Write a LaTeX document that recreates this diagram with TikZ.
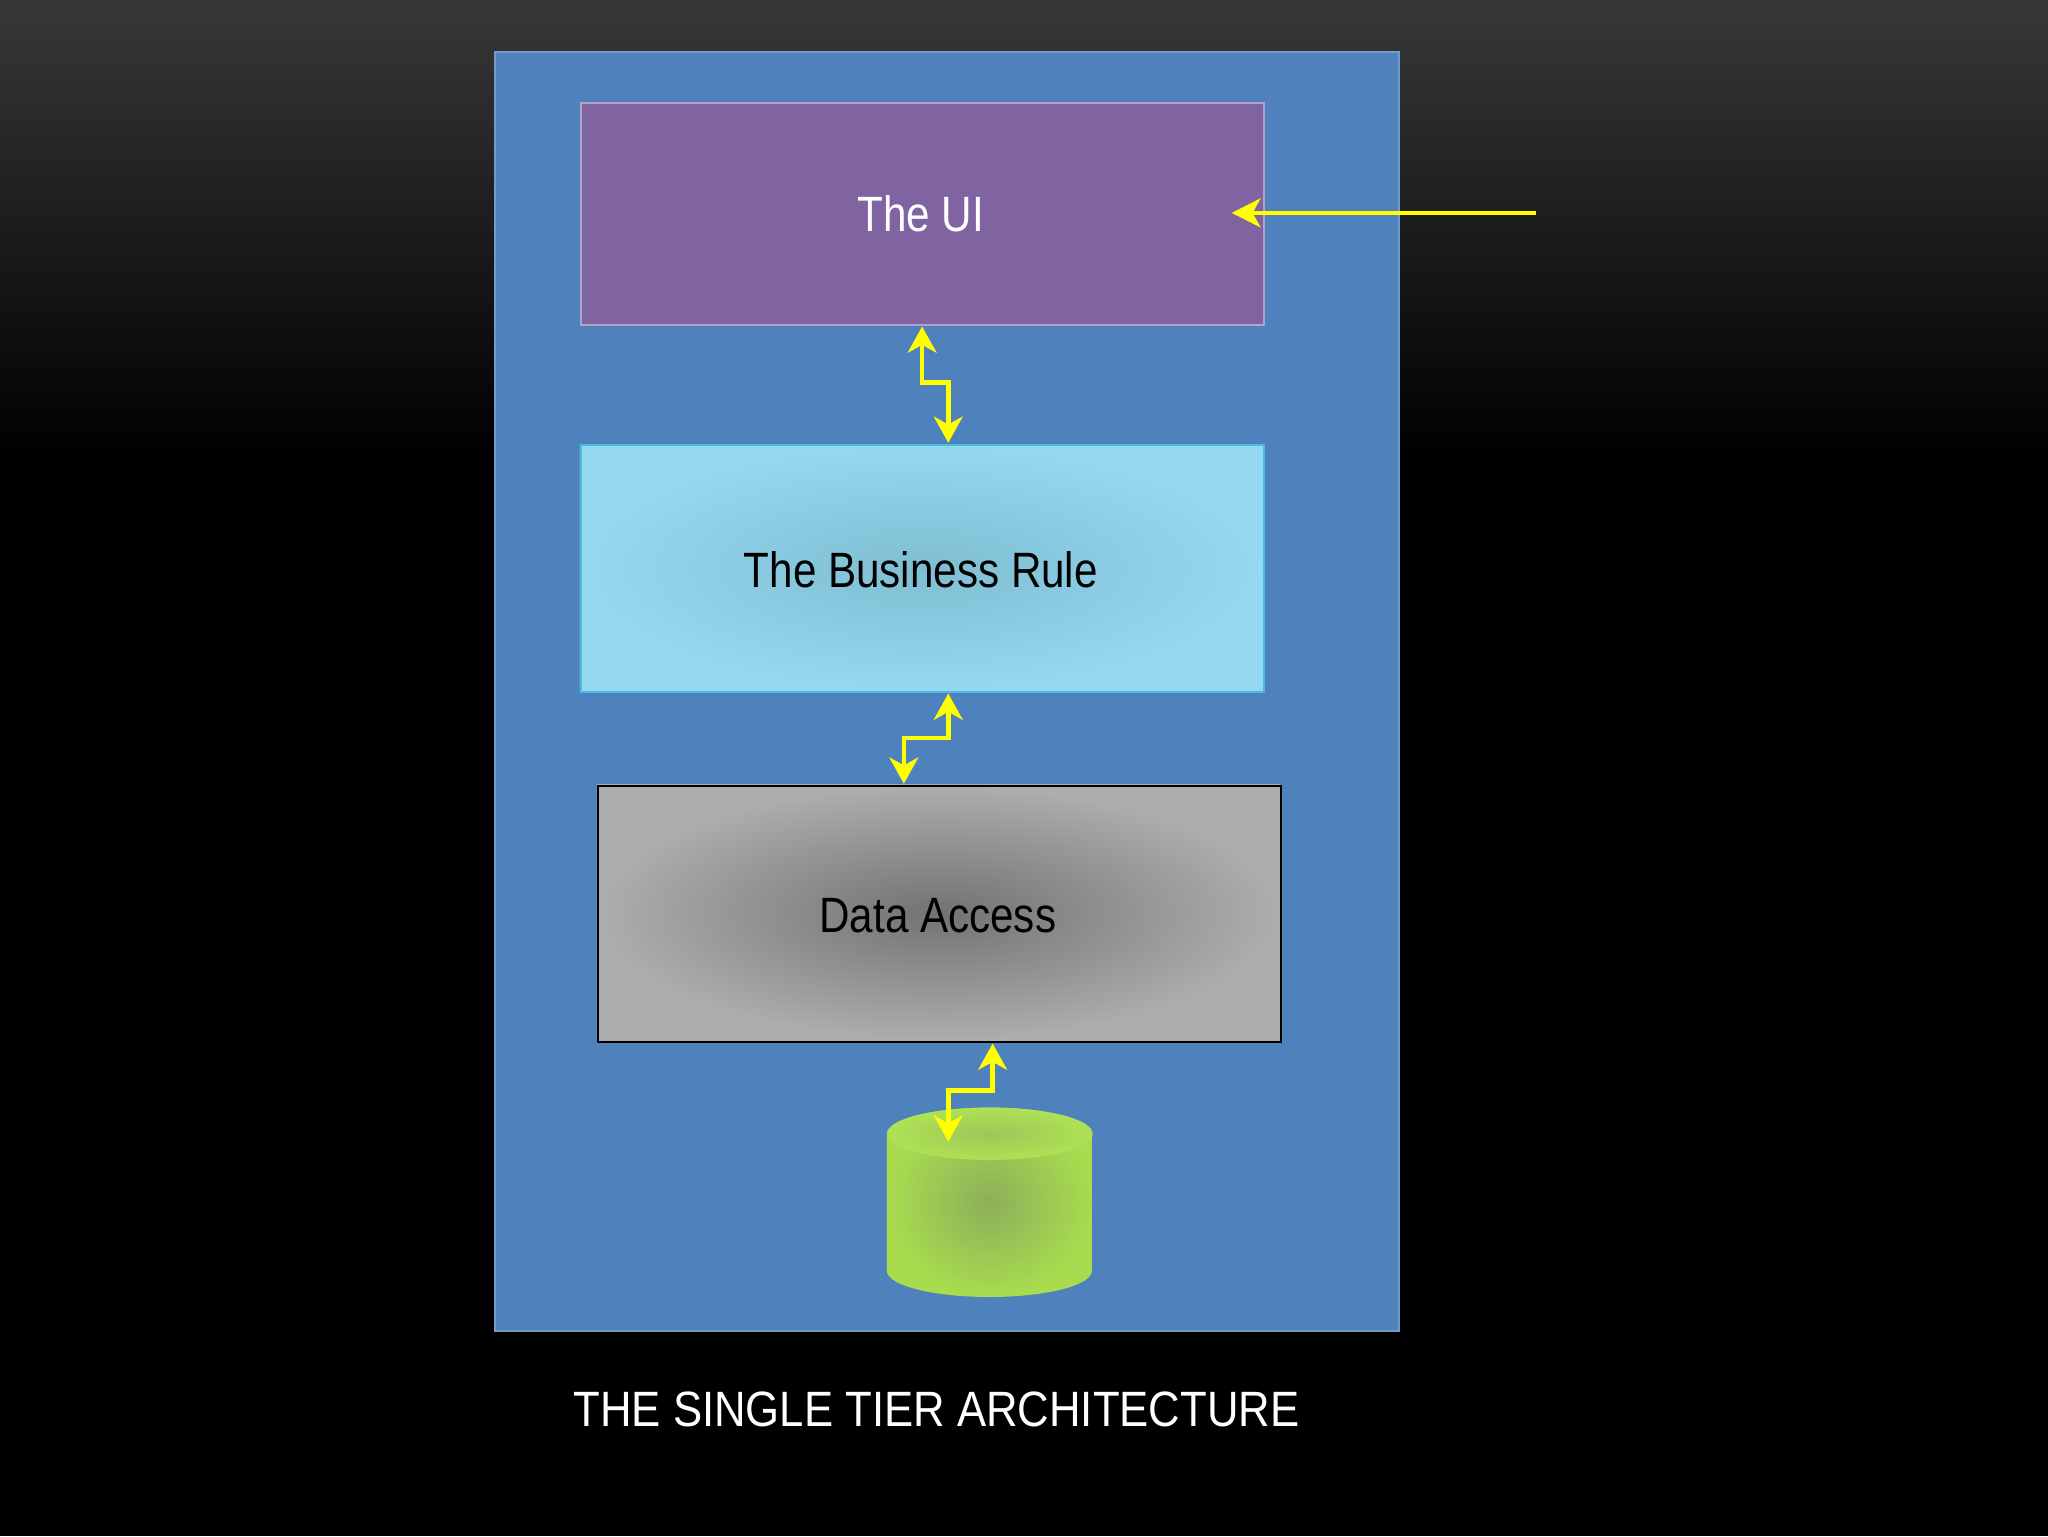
\documentclass[tikz,border=0pt]{standalone}
\usepackage{fontspec}
\setmainfont{Liberation Sans}
\usetikzlibrary{arrows.meta,shapes.geometric}
\definecolor{panel}{HTML}{4F81BD}
\definecolor{ui}{HTML}{8064A2}
\definecolor{yel}{HTML}{FFFF00}
\definecolor{brin}{RGB}{127,190,210}
\definecolor{brout}{RGB}{150,216,240}
\definecolor{brdr}{RGB}{70,190,225}
\definecolor{gin}{RGB}{140,175,90}
\definecolor{gout}{RGB}{168,220,78}
\definecolor{gtop}{RGB}{175,226,85}
\begin{document}
\begin{tikzpicture}[x=1pt,y=-1pt,
  lbl/.style={font=\fontsize{38}{40}\selectfont,xscale=0.85,transform shape},
  zz/.style={draw=yel,line width=3.5pt,{Stealth[length=20pt,width=22pt,inset=6pt]}-{Stealth[length=20pt,width=22pt,inset=6pt]}},
  box/.style={minimum width=523pt,anchor=north west,inner sep=0}]
\useasboundingbox (0,0) rectangle (1568,1176);
\shade[top color=black!78,bottom color=black] (0,0) rectangle (1568,350);
\fill[black] (0,349) rectangle (1568,1176);
\draw[fill=panel,draw=panel!80!white,line width=1.5pt] (379,40) rectangle (1071,1019);
% UI
\node[box,minimum height=170pt,fill=ui,draw=ui!60!white,line width=1.5pt] (ui) at (444,78) {};
\node[lbl,text=white] at (705,164) {The UI};
% business
\shade[inner color=brin,outer color=brout] (444,340) rectangle (967,529);
\node[box,minimum height=189pt,draw=brdr,line width=1.5pt] (br) at (444,340) {};
\node[lbl,text=black] at (705,436) {The Business Rule};
% data access
\shade[inner color=black!55,outer color=black!32] (457,601) rectangle (980,797);
\node[box,minimum height=196pt,draw=black,line width=1.5pt] (da) at (457,601) {};
\node[lbl,text=black] at (718,701) {Data Access};
% cylinder
\shade[inner color=gin,outer color=gout]
  (679,868) -- (679,973) arc[start angle=180,end angle=0,x radius=78.5,y radius=20] -- (836,868) arc[start angle=0,end angle=-180,x radius=78.5,y radius=20] -- cycle;
\fill[gtop] (758,868) ellipse[x radius=78.5,y radius=20];
\shade[inner color=gin,outer color=gtop,opacity=0.5] (758,868) ellipse[x radius=78.5,y radius=20];
% arrows
\coordinate (a1) at (1176,163);
\draw[draw=yel,line width=3.5pt,-{Stealth[length=22pt,width=22pt,inset=6pt]}] (a1) -- (943,163);
\draw[zz] (706,250) -- (706,293) -- (726,293) -- (726,339);
\draw[zz] (726,531) -- (726,565) -- (692,565) -- (692,600);
\draw[zz] (760,799) -- (760,835) -- (726,835) -- (726,874);
\node[font=\fontsize{38}{40}\selectfont,text=white,xscale=0.88,transform shape] (t) at (717,1079) {THE SINGLE TIER ARCHITECTURE};
\end{tikzpicture}
\end{document}
